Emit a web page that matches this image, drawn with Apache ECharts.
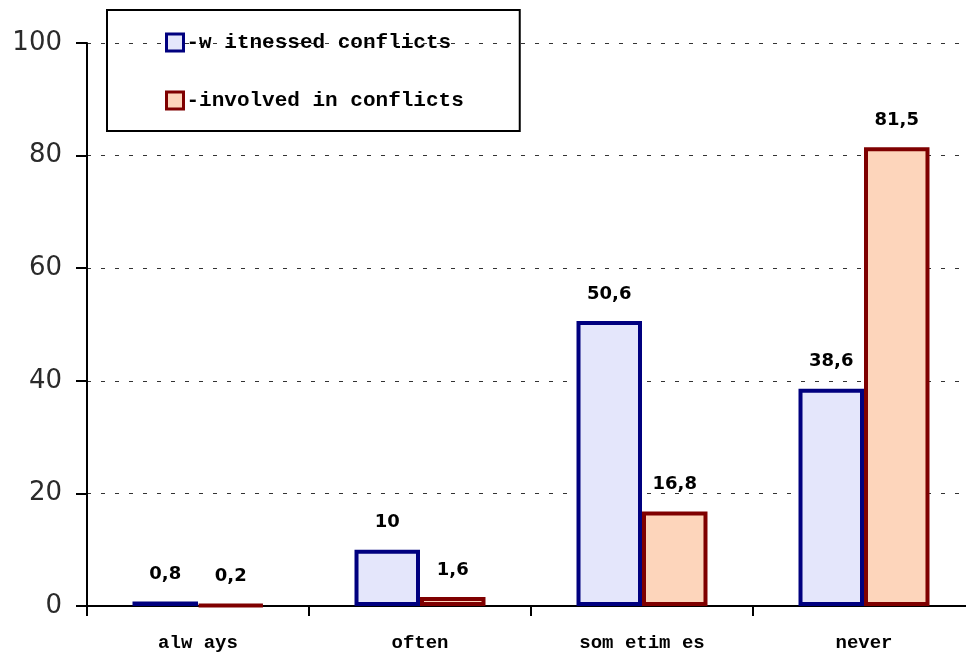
<!DOCTYPE html>
<html><head><meta charset="utf-8">
<script src="https://cdn.jsdelivr.net/npm/echarts@6/dist/echarts.min.js"></script>
<style>html,body{margin:0;padding:0;background:#fff}#c{width:966px;height:656px}</style>
</head><body><div id="c"></div>
<script>
const categories = ['alw ays', 'often', 'som etim es', 'never'];
const seriesNames = ['w itnessed conflicts', 'involved in conflicts'];
const witnessed = [0.8, 10, 50.6, 38.6];
const involved = [0.2, 1.6, 16.8, 81.5];
const yTicks = [0, 20, 40, 60, 80, 100];

const chart = echarts.init(document.getElementById('c'));
const lbl = {
  show: true, position: 'top', distance: 18,
  fontFamily: 'DejaVu Sans', fontWeight: 'bold', fontSize: 18, color: '#000',
  formatter: p => String(p.value).replace('.', ',')
};
chart.setOption({
  animation: false,
  grid: { left: 87, top: 43, bottom: 50, width: 888, outerBoundsMode: 'none', containLabel: false },
  legend: {
    left: 107, top: 10, orient: 'vertical', itemGap: 37,
    itemWidth: 17, itemHeight: 17, icon: 'rect',
    padding: [22, 56, 20, 58],
    borderColor: '#000', borderWidth: 2,
    itemStyle: { borderWidth: 3 },
    textStyle: { fontFamily: 'Liberation Mono', fontWeight: 'bold', fontSize: 21, color: '#000', padding: [0,0,0,-2] },
    formatter: n => '-' + n,
    data: seriesNames
  },
  xAxis: {
    type: 'category', data: categories,
    axisLine: { lineStyle: { color: '#000', width: 2 } },
    axisTick: { show: true, length: 10, lineStyle: { color: '#000', width: 2 } },
    axisLabel: { fontFamily: 'Liberation Mono', fontWeight: 'bold', fontSize: 19, color: '#000', margin: 28 }
  },
  yAxis: {
    type: 'value', min: 0, max: 100, interval: 20,
    axisLine: { show: true, lineStyle: { color: '#000', width: 2 } },
    axisTick: { show: true, length: 11, lineStyle: { color: '#000', width: 2 } },
    axisLabel: { fontFamily: 'DejaVu Sans', fontSize: 26, color: '#2a2a2a', margin: 25,
      formatter: v => yTicks.includes(v) ? String(v) : '' },
    splitLine: { show: true, lineStyle: { color: '#333', type: [4, 10], width: 1 } }
  },
  series: [
    { name: seriesNames[0], type: 'bar', data: witnessed, barGap: '0%', barCategoryGap: '41%',
      itemStyle: { color: '#e4e6fb', borderColor: '#00007f', borderWidth: 4 }, label: lbl },
    { name: seriesNames[1], type: 'bar', data: involved,
      itemStyle: { color: '#fdd5bb', borderColor: '#7f0000', borderWidth: 4 }, label: lbl }
  ]
});
</script></body></html>
